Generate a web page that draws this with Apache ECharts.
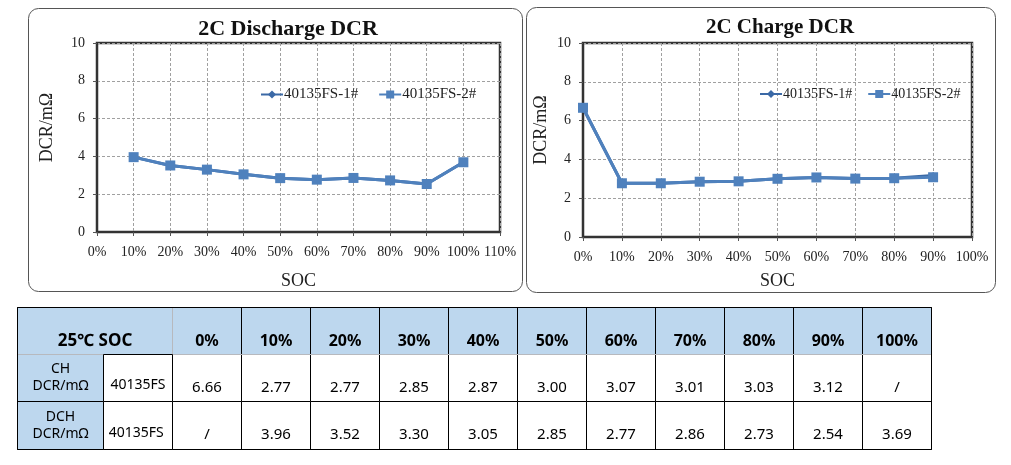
<!DOCTYPE html>
<html>
<head>
<meta charset="utf-8">
<title>2C DCR</title>
<script src="https://cdn.jsdelivr.net/npm/echarts@6.0.0/dist/echarts.min.js"></script>
<style>
    html, body { margin: 0; padding: 0; background: #fff; }
    #main { width: 1011px; height: 465px; }
</style>
</head>
<body>
<div id="main"></div>
<script>
// 放电 DCR（SOC 10% ~ 100%）
const dchSoc = [10, 20, 30, 40, 50, 60, 70, 80, 90, 100];
const dchFS1 = [3.96, 3.52, 3.30, 3.05, 2.85, 2.77, 2.86, 2.73, 2.54, 3.69];
const dchFS2 = [3.96, 3.52, 3.30, 3.05, 2.85, 2.77, 2.86, 2.73, 2.54, 3.69];

// 充电 DCR（SOC 0% ~ 90%）
const chSoc = [0, 10, 20, 30, 40, 50, 60, 70, 80, 90];
const chFS1 = [6.66, 2.77, 2.77, 2.85, 2.87, 3.00, 3.07, 3.01, 3.03, 3.17];
const chFS2 = [6.66, 2.77, 2.77, 2.85, 2.87, 3.00, 3.07, 3.01, 3.03, 3.08];

const seriesNames = ['40135FS-1#', '40135FS-2#'];

// 表格数据
const tableSoc = ['0%', '10%', '20%', '30%', '40%', '50%', '60%', '70%', '80%', '90%', '100%'];
const tableRows = ['CH\nDCR/mΩ', 'DCH\nDCR/mΩ'];
const cellName = '40135FS';
const chTable = ['6.66', '2.77', '2.77', '2.85', '2.87', '3.00', '3.07', '3.01', '3.03', '3.12', '/'];
const dchTable = ['/', '3.96', '3.52', '3.30', '3.05', '2.85', '2.77', '2.86', '2.73', '2.54', '3.69'];

const serif = 'Liberation Serif, Times New Roman, serif';
const sans = 'Noto Sans, Noto Sans CJK SC, sans-serif';

const chart = echarts.init(document.getElementById('main'));

// 坐标轴通用样式
function xAxisOf(gridIndex, max) {
    return {
        type: 'value', gridIndex: gridIndex, min: 0, max: max, interval: 10,
        name: 'SOC', nameLocation: 'middle', nameGap: gridIndex === 0 ? 40 : 35,
        nameTextStyle: { fontFamily: serif, fontSize: 18, color: '#222' },
        axisLine: { show: true, lineStyle: { color: '#333', width: 2 } },
        axisTick: { show: true, length: 4, lineStyle: { color: '#555' } },
        axisLabel: { formatter: '{value}%', fontFamily: serif, fontSize: 14, color: '#222', margin: 13 },
        splitLine: { show: true, lineStyle: { color: '#a0a0a0', type: [3, 2] } }
    };
}
function yAxisOf(gridIndex) {
    return {
        type: 'value', gridIndex: gridIndex, min: 0, max: 10, interval: 2,
        name: 'DCR/mΩ', nameLocation: 'middle', nameRotate: 90, nameGap: gridIndex === 0 ? 41 : 33,
        nameTextStyle: { fontFamily: serif, fontSize: 18, color: '#222', padding: [0, 0, 0, 20] },
        axisLine: { show: true, lineStyle: { color: '#333', width: 2 } },
        axisTick: { show: true, length: 4, lineStyle: { color: '#555' } },
        axisLabel: { fontFamily: serif, fontSize: 14, color: '#222', margin: 12 },
        splitLine: { show: true, lineStyle: { color: '#a0a0a0', type: [3, 2] } }
    };
}
function lineSeries(name, idx, soc, vals, isSquare) {
    return {
        name: name, type: 'line', xAxisIndex: idx, yAxisIndex: idx,
        data: soc.map((s, i) => [s, vals[i]]),
        symbol: isSquare ? 'rect' : 'diamond',
        symbolSize: isSquare ? 10 : 7,
        color: isSquare ? '#4f81bd' : '#3b69a6',
        lineStyle: { width: 3 },
        itemStyle: { opacity: 1 },
        emphasis: { disabled: true },
        z: isSquare ? 3 : 2
    };
}
function legendOf(left, top, size, gap) {
    return {
        data: seriesNames, left: left, top: top, itemGap: gap, itemWidth: 22, itemHeight: 10,
        textStyle: { fontFamily: serif, fontSize: size, color: '#222', padding: [0, 0, 0, -4] }
    };
}

const bodyData = [];
tableSoc.forEach((s, i) => {
    bodyData.push({ coord: [i, 0], value: chTable[i] });
    bodyData.push({ coord: [i, 1], value: dchTable[i] });
});

const option = {
    animation: false,
    graphic: [
        { type: 'rect', shape: { x: 28.5, y: 8.5, width: 494, height: 283, r: 10 }, style: { fill: 'none', stroke: '#555', lineWidth: 1 }, silent: true },
        { type: 'rect', shape: { x: 526.5, y: 7.5, width: 469, height: 285, r: 10 }, style: { fill: 'none', stroke: '#555', lineWidth: 1 }, silent: true }
    ],
    title: [
        { text: '2C Discharge DCR', left: 283, top: 13, textAlign: 'center',
          textStyle: { fontFamily: serif, fontSize: 22, fontWeight: 'bold', color: '#111' } },
        { text: '2C Charge DCR', left: 775, top: 12, textAlign: 'center',
          textStyle: { fontFamily: serif, fontSize: 21, fontWeight: 'bold', color: '#111' } }
    ],
    legend: [legendOf(255, 82, 15, 20), legendOf(754, 82, 14, 15)],
    grid: [
        { left: 97, top: 43, width: 403, height: 189, show: true, borderColor: '#333', borderWidth: 2.5, backgroundColor: '#fff' },
        { left: 583, top: 43, width: 389, height: 194, show: true, borderColor: '#333', borderWidth: 2.5, backgroundColor: '#fff' }
    ],
    xAxis: [xAxisOf(0, 110), xAxisOf(1, 100)],
    yAxis: [yAxisOf(0), yAxisOf(1)],
    series: [
        lineSeries(seriesNames[0], 0, dchSoc, dchFS1, false),
        lineSeries(seriesNames[1], 0, dchSoc, dchFS2, true),
        lineSeries(seriesNames[0], 1, chSoc, chFS1, false),
        lineSeries(seriesNames[1], 1, chSoc, chFS2, true)
    ],
    matrix: {
        left: 17, top: 307, width: 914, height: 142,
        x: {
            data: tableSoc.map(s => ({ value: s })),
            levelSize: 47,
            itemStyle: { color: '#bdd7ee', borderColor: '#000', borderWidth: 1 },
            label: { fontFamily: sans, fontSize: 16, fontWeight: 'bold', color: '#000', verticalAlign: 'top' }
        },
        y: {
            // 第二级单元格名称相同，用尾部空格区分
            data: tableRows.map((r, i) => ({
                value: r,
                children: [{
                    value: cellName + ' '.repeat(i),
                    itemStyle: { color: '#fff' },
                    label: { verticalAlign: 'top', lineHeight: 11 }
                }]
            })),
            levels: [{ levelSize: 86 }, { levelSize: 69 }],
            itemStyle: { color: '#bdd7ee', borderColor: '#000', borderWidth: 1 },
            label: { fontFamily: sans, fontSize: 14, color: '#000', lineHeight: 17 }
        },
        corner: {
            data: [{ coord: [[-2, -1], -1], mergeCells: true, value: '25℃ SOC' }],
            itemStyle: { color: '#bdd7ee', borderColor: '#000', borderWidth: 1 },
            label: { fontFamily: sans, fontSize: 17, fontWeight: 'bold', color: '#000', verticalAlign: 'top' }
        },
        body: {
            data: bodyData,
            itemStyle: { color: '#fff', borderColor: '#000', borderWidth: 1 },
            label: { fontFamily: sans, fontSize: 15, color: '#000', verticalAlign: 'top' }
        },
        backgroundStyle: { borderColor: '#000', borderWidth: 1 }
    }
};

chart.setOption(option);
</script>
</body>
</html>
